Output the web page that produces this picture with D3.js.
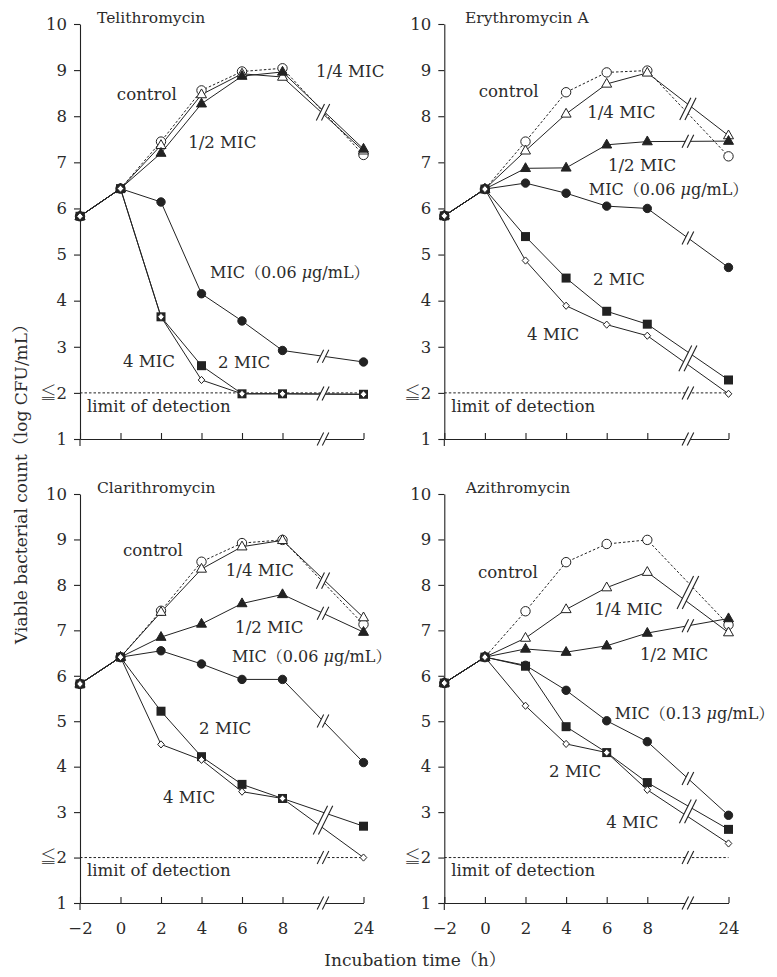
<!DOCTYPE html>
<html><head><meta charset="utf-8">
<script src="https://cdn.jsdelivr.net/npm/d3@7"></script>
<style>body{margin:0;background:#fff}svg{display:block}</style>
</head><body>
<svg id="c" width="777" height="977"></svg>
<script>
// ---------- data ----------
const times = [-2, 0, 2, 4, 6, 8, 24];
const timeLabels = ["\u22122", "0", "2", "4", "6", "8", "24"];
const timeIndex = [0, 1, 2, 3, 4, 5, 7];   // 24 h sits after the axis break
const breakIndex = 6;
const yTicks = [1, 2, 3, 4, 5, 6, 7, 8, 9, 10];
const yTickLabels = ["1", "\u22662", "3", "4", "5", "6", "7", "8", "9", "10"];
const limitOfDetection = 2;
const drugs = ["Telithromycin", "Erythromycin A", "Clarithromycin", "Azithromycin"];
const micValues = ["0.06", "0.06", "0.06", "0.13"];
const seriesNames = ["control", "1/4 MIC", "1/2 MIC", "MIC", "2 MIC", "4 MIC"];

const teliControl = [5.83, 6.43, 7.45, 8.56, 8.97, 9.04, 7.16];
const teliQuarter = [5.83, 6.43, 7.37, 8.47, 8.92, 8.85, 7.25];
const teliHalf    = [5.83, 6.43, 7.20, 8.27, 8.87, 8.96, 7.29];
const teliMIC     = [5.83, 6.43, 6.14, 4.15, 3.56, 2.92, 2.67];
const teli2MIC    = [5.83, 6.43, 3.65, 2.59, 1.98, 1.98, 1.97];
const teli4MIC    = [5.83, 6.43, 3.65, 2.28, 1.98, 1.98, 1.97];

const eryControl = [5.84, 6.42, 7.45, 8.52, 8.95, 8.99, 7.13];
const eryQuarter = [5.84, 6.42, 7.25, 8.05, 8.70, 8.94, 7.58];
const eryHalf    = [5.84, 6.42, 6.87, 6.88, 7.38, 7.45, 7.46];
const eryMIC     = [5.84, 6.42, 6.55, 6.33, 6.05, 6.00, 4.72];
const ery2MIC    = [5.84, 6.42, 5.39, 4.49, 3.77, 3.49, 2.28];
const ery4MIC    = [5.84, 6.42, 4.87, 3.89, 3.48, 3.24, 1.98];

const claControl = [5.82, 6.41, 7.43, 8.51, 8.92, 8.99, 7.13];
const claQuarter = [5.82, 6.41, 7.40, 8.35, 8.84, 8.98, 7.28];
const claHalf    = [5.82, 6.41, 6.85, 7.14, 7.59, 7.79, 6.96];
const claMIC     = [5.82, 6.41, 6.55, 6.26, 5.92, 5.92, 4.09];
const cla2MIC    = [5.82, 6.41, 5.22, 4.22, 3.61, 3.30, 2.69];
const cla4MIC    = [5.82, 6.41, 4.49, 4.15, 3.45, 3.30, 2.00];

const aziControl = [5.84, 6.41, 7.42, 8.50, 8.90, 8.99, 7.12];
const aziQuarter = [5.84, 6.41, 6.83, 7.46, 7.94, 8.28, 6.95];
const aziHalf    = [5.84, 6.41, 6.59, 6.52, 6.66, 6.94, 7.26];
const aziMIC     = [5.84, 6.41, 6.23, 5.68, 5.01, 4.55, 2.93];
const azi2MIC    = [5.84, 6.41, 6.21, 4.88, 4.31, 3.65, 2.62];
const azi4MIC    = [5.84, 6.41, 5.34, 4.50, 4.31, 3.49, 2.31];

const panelSeries = [
  [teliControl, teliQuarter, teliHalf, teliMIC, teli2MIC, teli4MIC],
  [eryControl, eryQuarter, eryHalf, eryMIC, ery2MIC, ery4MIC],
  [claControl, claQuarter, claHalf, claMIC, cla2MIC, cla4MIC],
  [aziControl, aziQuarter, aziHalf, aziMIC, azi2MIC, azi4MIC]
];

// ---------- layout / style ----------
const FONT = "'DejaVu Serif','Noto Serif CJK JP','Noto Sans CJK JP',serif";
const INK = "#222";
const TXT = "#2b2b2b";
const LABEL_SIZE = 16.6;
const geom = [
  {x0: 80,    x1: 363.5, yT: 24,  yB: 439, xLabels: false},
  {x0: 444.3, x1: 728.5, yT: 24,  yB: 439, xLabels: false},
  {x0: 80,    x1: 363.5, yT: 494, yB: 903, xLabels: true},
  {x0: 444.3, x1: 728.5, yT: 494, yB: 903, xLabels: true}
];
// annotation anchors (x in axis-index units, y in log units), per panel
const annot = [
  [{s:0,i:0.91,v:8.35},{s:1,i:5.83,v:8.85},{s:2,i:2.67,v:7.31},{s:3,i:3.21,v:4.49},{s:4,i:3.41,v:2.54},{s:5,i:1.06,v:2.56}],
  [{s:0,i:0.85,v:8.42},{s:1,i:3.52,v:7.96},{s:2,i:4.03,v:6.81},{s:3,i:3.56,v:6.29},{s:4,i:3.66,v:4.34},{s:5,i:2.04,v:3.15}],
  [{s:0,i:1.06,v:8.64},{s:1,i:3.60,v:8.19},{s:2,i:3.83,v:6.94},{s:3,i:3.75,v:6.30},{s:4,i:2.94,v:4.72},{s:5,i:2.05,v:3.19}],
  [{s:0,i:0.83,v:8.16},{s:1,i:3.70,v:7.33},{s:2,i:4.82,v:6.34},{s:3,i:4.20,v:5.05},{s:4,i:2.58,v:3.78},{s:5,i:3.99,v:2.65}]
];
const titleAnchor = [{i:0.42},{i:0.51},{i:0.42},{i:0.53}];

const svg = d3.select("#c");

function markerPath(kind) {
  if (kind === "tri") return "M0,-5.6L5,3.2L-5,3.2Z";
  if (kind === "dia") return "M0,-3.6L3.3,0L0,3.6L-3.3,0Z";
  return null;
}
const markerStyle = [
  {kind:"circle", r:4.7, fill:"#fff"},
  {kind:"tri", fill:"#fff"},
  {kind:"tri", fill:INK},
  {kind:"circle", r:4.2, fill:INK},
  {kind:"square", s:9, fill:INK},
  {kind:"dia", fill:"#fff"}
];

function breakMark(g, cx, cy, spread) {
  const h = 13 + spread, w = h * 0.5, gap = 2.6;
  const p = [[-gap - w/2, h/2], [-gap + w/2, -h/2], [gap + w/2, -h/2], [gap - w/2, h/2]];
  g.append("path").attr("d", "M" + p.map(q => [cx + q[0], cy + q[1]].join(",")).join("L") + "Z")
    .attr("fill", "#fff").attr("stroke", "none");
  [[p[0], p[1]], [p[3], p[2]]].forEach(([a, b]) => {
    g.append("line").attr("x1", cx + a[0]).attr("y1", cy + a[1]).attr("x2", cx + b[0]).attr("y2", cy + b[1])
      .attr("stroke", INK).attr("stroke-width", 1.1);
  });
}

geom.forEach((G, pi) => {
  const x = d3.scaleLinear().domain([0, 7]).range([G.x0, G.x1]);
  const y = d3.scaleLinear().domain([1, 10]).range([G.yB, G.yT]);
  const g = svg.append("g");

  // limit of detection
  g.append("line").attr("x1", x(0)).attr("x2", x(7)).attr("y1", y(limitOfDetection)).attr("y2", y(limitOfDetection))
    .attr("stroke", INK).attr("stroke-width", 1).attr("stroke-dasharray", "2.5,2");

  // axes
  const ya = d3.axisLeft(y).tickValues(yTicks).tickFormat((d, i) => yTickLabels[i]).tickSize(6).tickSizeOuter(0).tickPadding(7);
  const yg = g.append("g").attr("transform", `translate(${G.x0},0)`).call(ya);
  const xa = d3.axisBottom(x).tickValues(timeIndex).tickFormat((d, i) => G.xLabels ? timeLabels[i] : "")
    .tickSize(-6).tickSizeOuter(0).tickPadding(19);
  const xg = g.append("g").attr("transform", `translate(0,${G.yB})`).call(xa);
  [yg, xg].forEach(a => {
    a.attr("font-family", null).attr("font-size", null);
    a.selectAll("path,line").attr("stroke", INK).attr("stroke-width", 1.1);
    a.selectAll("text").attr("font-family", FONT).attr("font-size", 16.5).attr("fill", TXT);
  });
  g.append("line").attr("x1", G.x0).attr("x2", G.x0).attr("y1", G.yB).attr("y2", G.yB + 7)
    .attr("stroke", INK).attr("stroke-width", 1.1);

  // series lines
  const series = panelSeries[pi];
  const line = d3.line().x((d, i) => x(timeIndex[i])).y(d => y(d));
  series.forEach((vals, si) => {
    g.append("path").attr("d", line(vals)).attr("fill", "none").attr("stroke", INK)
      .attr("stroke-width", 1).attr("stroke-dasharray", si === 0 ? "2.5,2" : null);
  });

  // break marks: cluster crossings at the break position
  const crossings = series.map(v => (v[5] + v[6]) / 2).concat([limitOfDetection]).sort((a, b) => b - a);
  const clusters = [];
  crossings.forEach(c => {
    const last = clusters[clusters.length - 1];
    if (last && last[last.length - 1] - c < 0.48) last.push(c); else clusters.push([c]);
  });
  clusters.forEach(cl => {
    const top = y(cl[0]), bot = y(cl[cl.length - 1]);
    breakMark(g, x(breakIndex), (top + bot) / 2, bot - top);
  });
  breakMark(g, x(breakIndex), G.yB, 0);

  // markers
  series.forEach((vals, si) => {
    const m = markerStyle[si];
    vals.forEach((v, i) => {
      const cx = x(timeIndex[i]), cy = y(v);
      if (m.kind === "circle") {
        g.append("circle").attr("cx", cx).attr("cy", cy).attr("r", m.r).attr("fill", m.fill).attr("stroke", INK).attr("stroke-width", 1);
      } else if (m.kind === "square") {
        g.append("rect").attr("x", cx - m.s/2).attr("y", cy - m.s/2).attr("width", m.s).attr("height", m.s).attr("fill", m.fill);
      } else {
        g.append("path").attr("d", markerPath(m.kind)).attr("transform", `translate(${cx},${cy})`)
          .attr("fill", m.fill).attr("stroke", INK).attr("stroke-width", 1);
      }
    });
  });

  // title
  g.append("text").attr("x", x(titleAnchor[pi].i)).attr("y", y(10) - 1).text(drugs[pi])
    .attr("font-family", FONT).attr("font-size", 15.5).attr("fill", TXT);

  // series annotations
  annot[pi].forEach(a => {
    const t = g.append("text").attr("x", x(a.i)).attr("y", y(a.v))
      .attr("font-family", FONT).attr("fill", TXT);
    if (a.s === 3) {
      t.attr("font-size", 16);
      t.append("tspan").text("MIC\uFF08" + micValues[pi] + " ");
      t.append("tspan").attr("font-style", "italic").text("\u03BC");
      t.append("tspan").text("g/mL\uFF09");
    } else {
      t.attr("font-size", LABEL_SIZE).text(seriesNames[a.s]);
    }
  });
  g.append("text").attr("x", x(0.17)).attr("y", y(1.59)).text("limit of detection")
    .attr("font-family", FONT).attr("font-size", LABEL_SIZE).attr("fill", TXT);
});

// axis titles
svg.append("text").attr("transform", "translate(27,480) rotate(-90)").attr("text-anchor", "middle")
  .attr("font-family", FONT).attr("font-size", 17).attr("fill", TXT)
  .text("Viable bacterial count\uFF08log CFU/mL\uFF09");
svg.append("text").attr("x", 415).attr("y", 966).attr("text-anchor", "middle")
  .attr("font-family", FONT).attr("font-size", 17).attr("fill", TXT)
  .text("Incubation time\uFF08h\uFF09");
</script>
</body></html>
